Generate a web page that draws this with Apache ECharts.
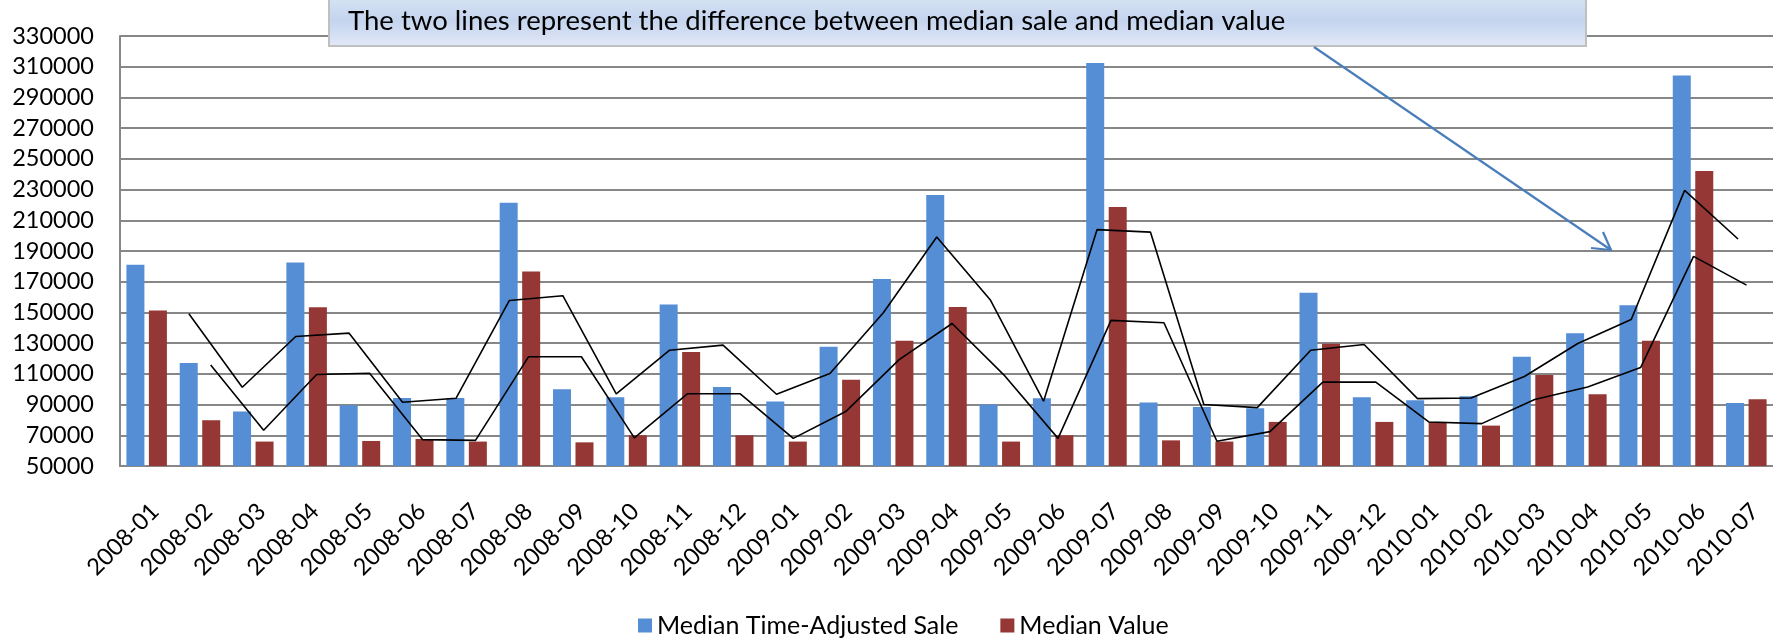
<!DOCTYPE html>
<html>
<head>
<meta charset="utf-8">
<title>Median sale vs median value</title>
<script src="https://cdn.jsdelivr.net/npm/echarts@6/dist/echarts.min.js"></script>
<style>
  html, body { margin: 0; padding: 0; background: #fff; }
  #chart { width: 1773px; height: 641px; }
</style>
</head>
<body>
<div id="chart"></div>
<script>
// months on the x axis
const months = [
  '2008-01', '2008-02', '2008-03', '2008-04', '2008-05', '2008-06', '2008-07', '2008-08',
  '2008-09', '2008-10', '2008-11', '2008-12', '2009-01', '2009-02', '2009-03', '2009-04',
  '2009-05', '2009-06', '2009-07', '2009-08', '2009-09', '2009-10', '2009-11', '2009-12',
  '2010-01', '2010-02', '2010-03', '2010-04', '2010-05', '2010-06', '2010-07'
]

// bars
const timeAdjustedSale = [
  181000, 117000, 85500, 182500, 89500, 94300, 94300, 221400,
  100000, 94800, 155200, 101500, 92000, 127600, 171700, 226500,
  90000, 94100, 312500, 91300, 88500, 87600, 162800, 94800,
  92800, 95400, 121100, 136500, 154600, 304200, 91100
]
const medianValue = [
  151300, 79800, 65900, 153300, 66300, 67600, 65900, 176700,
  65400, 70000, 124300, 70000, 65900, 106100, 131500, 153500,
  65900, 70000, 218600, 66700, 65900, 78700, 129600, 78700,
  78700, 76300, 109300, 96700, 131500, 242100, 93500
]

// the two black lines (2 month moving average drawn in the original)
const saleLine = [
  '-', 149100, 101300, 134300, 136500, 91500, 94100, 157800,
  160900, 97000, 125400, 128700, 96700, 110200, 149800, 199100,
  158300, 92200, 203900, 202300, 90000, 88000, 125400, 129100,
  93900, 94300, 108300, 129800, 145400, 229500, 197800
]
const valueLine = [
  '-', 115700, 73300, 109600, 110400, 67200, 66700, 121100,
  121100, 68300, 97000, 97000, 68000, 85700, 119300, 142800,
  108500, 68000, 144800, 143300, 66100, 72400, 104600, 104600,
  78700, 77600, 93300, 101500, 114100, 186500, 167800
]

const yMin = 50000
const yMax = 330000
const yStep = 20000

const note = 'The two lines represent the difference between median sale and median value'

const FONT = 'Lato, "Open Sans", sans-serif'
const AXIS_FONT = 23.5
const LEGEND_FONT = 25
const GRID_LEFT = 120
const GRID_RIGHT = -3
const GRID_TOP = 36
const GRID_BOTTOM = 175
const BAR_W = 18
const SHIFT = 11.25 // half of bar width + half of the gap, lines sit on bar centres

const chart = echarts.init(document.getElementById('chart'))

function catAxis(gridIndex, show) {
  return {
    type: 'category',
    gridIndex: gridIndex,
    data: months,
    show: show,
    axisTick: { show: false },
    axisLine: { lineStyle: { color: '#878787', width: 2 } },
    axisLabel: {
      interval: 0,
      rotate: 45,
      margin: 33,
      align: 'right',
      verticalAlign: 'top',
      color: '#000',
      fontFamily: FONT,
      fontSize: AXIS_FONT
    }
  }
}

function valAxis(gridIndex, show) {
  return {
    type: 'value',
    gridIndex: gridIndex,
    show: show,
    min: yMin,
    max: yMax,
    interval: yStep,
    axisLine: { show: true, lineStyle: { color: '#878787', width: 2 } },
    axisTick: { show: false },
    splitLine: { lineStyle: { color: '#878787', width: 2 } },
    axisLabel: {
      margin: 26,
      color: '#000',
      fontFamily: FONT,
      fontSize: AXIS_FONT,
      formatter: function(v) { return String(v) }
    }
  }
}

chart.setOption({
  animation: false,
  textStyle: { fontFamily: FONT },
  grid: [
    { left: GRID_LEFT, right: GRID_RIGHT, top: GRID_TOP, bottom: GRID_BOTTOM },
    { left: GRID_LEFT - SHIFT, right: GRID_RIGHT + SHIFT, top: GRID_TOP, bottom: GRID_BOTTOM },
    { left: GRID_LEFT + SHIFT, right: GRID_RIGHT - SHIFT, top: GRID_TOP, bottom: GRID_BOTTOM }
  ],
  xAxis: [catAxis(0, true), catAxis(1, false), catAxis(2, false)],
  yAxis: [valAxis(0, true), valAxis(1, false), valAxis(2, false)],
  legend: {
    data: ['Median Time-Adjusted Sale', 'Median Value'],
    left: 633,
    top: 608,
    icon: 'rect',
    itemWidth: 14,
    itemHeight: 14,
    itemGap: 42,
    textStyle: { color: '#000', fontFamily: FONT, fontSize: LEGEND_FONT }
  },
  series: [
    {
      name: 'Median Time-Adjusted Sale',
      type: 'bar',
      xAxisIndex: 0,
      yAxisIndex: 0,
      data: timeAdjustedSale,
      barWidth: BAR_W,
      barGap: '25%',
      itemStyle: { color: '#558ed5' }
    },
    {
      name: 'Median Value',
      type: 'bar',
      xAxisIndex: 0,
      yAxisIndex: 0,
      data: medianValue,
      barWidth: BAR_W,
      barGap: '25%',
      itemStyle: { color: '#953735' }
    },
    {
      name: 'sale line',
      type: 'line',
      xAxisIndex: 1,
      yAxisIndex: 1,
      data: saleLine,
      symbol: 'none',
      lineStyle: { color: '#000', width: 1.6 },
      z: 5
    },
    {
      name: 'value line',
      type: 'line',
      xAxisIndex: 2,
      yAxisIndex: 2,
      data: valueLine,
      symbol: 'none',
      lineStyle: { color: '#000', width: 1.6 },
      z: 5
    }
  ],
  graphic: [
    {
      type: 'rect',
      shape: { x: 329, y: -10, width: 1257, height: 56 },
      style: {
        fill: new echarts.graphic.LinearGradient(0, 0, 0, 1, [
          { offset: 0, color: '#dce8f4' },
          { offset: 0.55, color: '#c4d4ee' },
          { offset: 1, color: '#e3e9f7' }
        ]),
        stroke: '#c0c0c0',
        lineWidth: 2
      },
      z: 10
    },
    {
      type: 'text',
      x: 348,
      y: 21,
      style: {
        text: note,
        fill: '#000',
        font: '27.5px ' + FONT,
        textVerticalAlign: 'middle'
      },
      z: 11
    },
    {
      type: 'polyline',
      shape: { points: [[1314, 47], [1611, 250]] },
      style: { stroke: '#4a7ebb', lineWidth: 2.2 },
      z: 10
    },
    {
      type: 'polyline',
      shape: { points: [[1591, 248], [1611, 250], [1603, 232]] },
      style: { stroke: '#4a7ebb', lineWidth: 2.2, fill: null },
      z: 10
    }
  ]
})
</script>
</body>
</html>
